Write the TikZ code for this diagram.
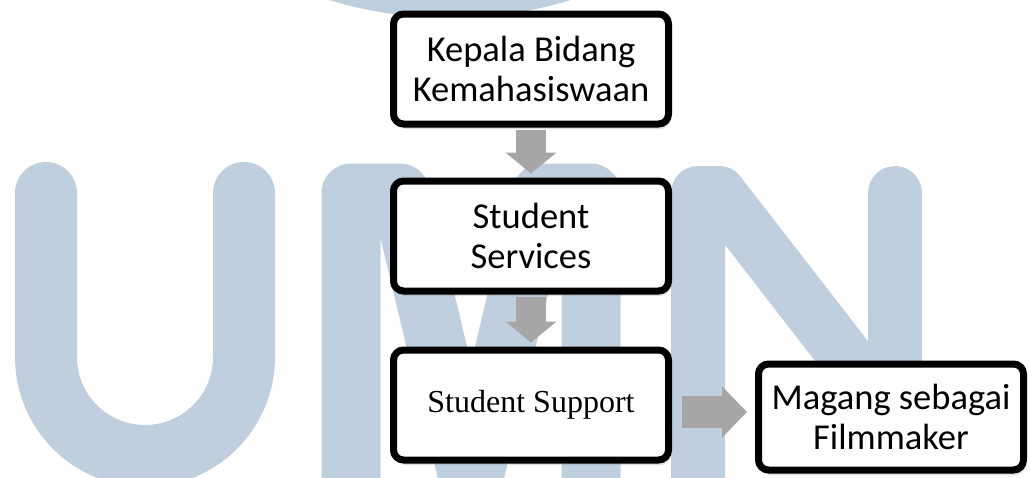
\documentclass[tikz,border=0pt]{standalone}
\usepackage{fontspec}
\setmainfont{Carlito}
\newfontfamily\timesfont{Liberation Serif}
\usetikzlibrary{positioning,arrows.meta,shadows}
\definecolor{umnbiru}{RGB}{192,207,221}
\definecolor{panahabu}{RGB}{166,166,166}
\tikzset{
  kotak/.style={draw=black,line width=7pt,rounded corners=10pt,fill=white,
    minimum width=275pt,minimum height=110pt,inner sep=0pt,align=center,
    drop shadow={opacity=0.25,shadow xshift=2pt,shadow yshift=-5pt},
    font=\fontsize{36.5}{40}\selectfont},
  panah/.style={draw=panahabu,line width=30pt,-{Triangle[length=21pt,width=50pt]},
    shorten <=2pt,shorten >=4pt}
}
\begin{document}
\begin{tikzpicture}[x=1pt,y=-1pt]
	\useasboundingbox (0,0) rectangle (1030,477);
	% watermark UMN
	\begin{scope}
		\clip (0,0) rectangle (1030,477);
		\fill[umnbiru] (450,-393) circle[radius=411pt];
		\draw[umnbiru,line width=62pt,line cap=round] (46,193) -- (46,357) arc[start angle=180,end angle=360,radius=99pt] -- (244,193);
		\draw[umnbiru,line width=59pt,line cap=round,line join=round] (351,520) -- (351,193) -- (400,193) -- (471,490) -- (542,193) -- (591,193) -- (591,520);
		\draw[umnbiru,line width=54pt,line cap=round,line join=round] (698,520) -- (698,193) -- (719,193) -- (895,420) -- (895,193);
	\end{scope}
	% bagan
	\node[kotak] (kepala) at (531,69) {Kepala Bidang\\Kemahasiswaan};
	\node[kotak,below=50pt of kepala] (services) {Student\\Services};
	\node[kotak,below=52pt of services,font=\timesfont\fontsize{32}{38}\selectfont] (support) {Student Support};
	\node[kotak,right=83pt of support,yshift=-12pt,minimum width=265pt,minimum height=106pt] (magang) {Magang sebagai\\Filmmaker};
	\draw[panah] (kepala) -- (services);
	\draw[panah] (services) -- (support);
	\draw[panah,line width=32pt,-{Triangle[length=25pt,width=50pt]},shorten <=10pt,shorten >=8pt] ([yshift=-7pt]support.east) -- ([yshift=-7pt]support.east -| magang.west);
\end{tikzpicture}
\end{document}
